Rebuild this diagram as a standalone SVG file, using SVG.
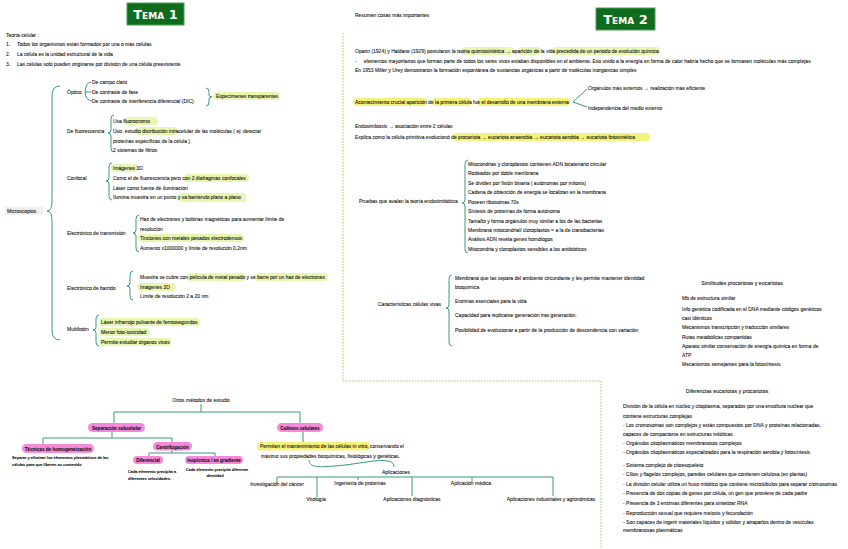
<svg xmlns="http://www.w3.org/2000/svg" width="848" height="549" viewBox="0 0 848 549">
<style>
text{font-family:"Liberation Sans",Arial,sans-serif;font-size:5px;fill:#111;stroke:#111;stroke-width:0.08}
.sm{font-size:3.9px;font-weight:bold}
.pt{font-size:4.6px;font-weight:bold;text-anchor:middle}
.c{text-anchor:middle}
.hd{font-size:5.2px}
.hl{fill:#e8f6b0}
.hy{fill:#f5f27c}
.pill{fill:#f48ad9}
.ln{stroke:#3a9a7e;stroke-width:1;fill:none}
.dash{stroke:#9ccc65;stroke-width:1;stroke-dasharray:1.5 1.5;fill:none}
.tema{fill:#0f6b1e;stroke:#4e9e55;stroke-width:1}
.tt{font-family:"DejaVu Sans",sans-serif;font-weight:bold;font-size:13px;fill:#fff;stroke:none;font-variant:small-caps}
</style>
<rect width="848" height="549" fill="#fff"/>

<g id="connectors">
<path class="dash" d="M343,33 V381 H601 V549"/>
<path class="ln" d="M60,86 Q52,86 52,96 L52,201 Q52,211 47,211 Q52,211 52,221 L52,330 Q52,340 60,340"/>
<path class="ln" d="M91,82 Q86,82 85,92 Q86,101 92,101 M85,92 L92,92"/>
<path class="ln" d="M206,88 Q209,88 209,92 L209,95 Q209,97 212,97 Q209,97 209,99 L209,102 Q209,106 206,106"/>
<path class="ln" d="M114,115 Q111,115 111,119 L111,130 Q111,133 108,133 Q111,133 111,136 L111,148 Q111,152 114,152"/>
<path class="ln" d="M112,163 Q109,163 109,167 L109,178 Q109,181 106,181 Q109,181 109,184 L109,196 Q109,200 112,200"/>
<path class="ln" d="M139,215 Q136,215 136,219 L136,230 Q136,233 133,233 Q136,233 136,236 L136,248 Q136,252 139,252"/>
<path class="ln" d="M133,271 Q130,271 130,275 L130,283 Q130,286 127,286 Q130,286 130,289 L130,296 Q130,300 133,300"/>
<path class="ln" d="M99,315 Q96,315 96,319 L96,327 Q96,330 93,330 Q96,330 96,333 L96,342 Q96,346 99,346"/>
<path class="ln" d="M587,89 L573,102 L587,107"/>
<path class="ln" d="M468,160 Q465,160 465,164 L465,200 Q465,203 462,203 Q465,203 465,206 L465,249 Q465,253 468,253"/>
<path class="ln" d="M452,275 Q449,275 449,279 L449,305 Q449,308 446,308 Q449,308 449,311 L449,342 Q449,346 452,346"/>
<path class="ln" d="M201,404 V412 M114,423 V412 H300 V423"/>
<path class="ln" d="M112,432 V438 M43,444 V438 H172 V442"/>
<path class="ln" d="M172,450 V453 M149,456 V453 H215 V456"/>
<path class="ln" d="M303,432 V442"/>
<path class="ln" d="M309,460 C309,468 320,467 335,466 C360,464 375,459 388,461 C393,462 394,464 394,467"/>
<path class="ln" d="M277,477 H553 M277,477 V484 M317,477 V497 M358,477 V480 M412,477 V496 M472,477 V482 M553,477 V496"/>
</g>

<g id="tema1">
<rect class="tema" x="127" y="3" width="57" height="22"/>
<text class="tt" x="155.5" y="18.5" text-anchor="middle">Tema 1</text>
</g>
<g id="tema2">
<rect class="tema" x="596" y="8" width="59" height="22"/>
<text class="tt" x="625.5" y="23.5" text-anchor="middle">Tema 2</text>
</g>

<g id="teoria-celular">
<text x="6" y="37">Teoría celular :</text>
<text x="6" y="46">1.</text><text x="17" y="46">Todos los organismos están formados por una o más células</text>
<text x="6" y="56">2.</text><text x="17" y="56">La célula es la unidad estructural de la vida</text>
<text x="6" y="66">3.</text><text x="17" y="66">Las células solo pueden originarse por división de una célula preexistente</text>
</g>

<g id="microscopios">
<rect x="5" y="207" width="38" height="8" fill="#eeeeee" rx="1"/>
<text x="7" y="213">Microscopios</text>
</g>

<g id="optico">
<text x="67" y="94">Óptico</text>
<text x="92" y="84">De campo claro</text>
<text x="92" y="94">De contraste de fase</text>
<text x="92" y="103">De contraste de interferencia diferencial (DIC)</text>
<rect class="hl" x="213" y="92" width="67" height="8" rx="4"/>
<text x="216" y="98">Especímenes transparentes</text>
</g>

<g id="fluorescencia">
<text x="67" y="133">De fluorescencia</text>
<rect class="hl" x="124" y="117" width="34" height="8" rx="4"/>
<rect class="hl" x="135" y="127" width="43" height="8" rx="4"/>
<text x="113" y="123">Usa fluorocromo</text>
<text x="113" y="133">Uso: estudio distribución intracelular de las moléculas ( ej: detectar</text>
<text x="113" y="143">proteínas específicas de la célula )</text>
<text x="113" y="152">2 sistemas de filtros</text>
</g>

<g id="confocal">
<text x="67" y="180">Confocal</text>
<rect class="hl" x="111" y="164" width="27" height="8" rx="4"/>
<rect class="hl" x="184" y="174" width="65" height="8" rx="4"/>
<rect class="hl" x="178" y="193" width="68" height="9" rx="4"/>
<text x="113" y="170">Imágenes 3D</text>
<text x="113" y="180">Como el de fluorescencia pero con 2 diafragmas confocales</text>
<text x="113" y="190">Láser como fuente de iluminación</text>
<text x="113" y="199">Ilumina muestra en un punto y va barriendo plano a plano</text>
</g>

<g id="transmision">
<text x="67" y="235">Electrónico de transmisión</text>
<rect class="hl" x="138" y="234" width="106" height="8" rx="4"/>
<text x="140" y="221">Haz de electrones y bobinas magnéticas para aumentar límite de</text>
<text x="140" y="231">resolución</text>
<text x="140" y="240">Tinciones con metales pesados electrodensos</text>
<text x="140" y="250">Aumento x1000000 y límite de resolución 0,2nm</text>
</g>

<g id="barrido">
<text x="67" y="290">Electrónico de barrido</text>
<rect class="hl" x="187" y="273" width="59" height="8" rx="4"/>
<rect class="hl" x="254" y="273" width="74" height="8" rx="4"/>
<rect class="hl" x="137" y="283" width="39" height="8" rx="4"/>
<text x="140" y="279">Muestra se cubre con película de metal pesado y se barre por un haz de electrones</text>
<text x="140" y="289">Imágenes 3D</text>
<text x="140" y="298">Límite de resolución 2 a 20 nm</text>
</g>

<g id="multifoton">
<text x="67" y="331">Multifotón</text>
<rect class="hl" x="99" y="318" width="101" height="8" rx="4"/>
<rect class="hl" x="99" y="328" width="51" height="8" rx="4"/>
<rect class="hl" x="99" y="338" width="72" height="8" rx="4"/>
<text x="101" y="324">Láser infrarrojo pulsante de femtosegundos</text>
<text x="101" y="334">Menor foto-toxicidad</text>
<text x="101" y="344">Permite estudiar órganos vivos</text>
</g>

<g id="otros-metodos">
<text class="c" x="201" y="402">Otros métodos de estudio</text>
</g>
<g id="separacion">
<rect class="pill" x="88" y="423" width="57" height="9" rx="4.5"/>
<text class="pt" x="116.5" y="429.5">Separación subcelular</text>
</g>
<g id="homogeneizacion">
<rect class="pill" x="22" y="444" width="72" height="9" rx="4.5"/>
<text class="pt" x="58" y="450.5">Técnicas de homogeneización</text>
<text class="sm" x="12" y="459">Separar y eliminar los elementos plasmáticos de las</text>
<text class="sm" x="12" y="466">células para que liberen su contenido</text>
</g>
<g id="centrifugacion">
<rect class="pill" x="153" y="442" width="39" height="8.5" rx="4.2"/>
<text class="pt" x="172.5" y="448.5">Centrifugación</text>
</g>
<g id="diferencial">
<rect class="pill" x="133" y="456" width="30" height="8" rx="4"/>
<text class="pt" x="148" y="462">Diferencial</text>
<text class="sm" x="128" y="473">Cada elemento precipita a</text>
<text class="sm" x="128" y="480">diferentes velocidades.</text>
</g>
<g id="isopicnica">
<rect class="pill" x="185" y="456" width="58" height="8" rx="4"/>
<text class="pt" x="214" y="462">Isopícnica / en gradiente</text>
<text class="sm c" x="217" y="471">Cada elemento precipita diferente</text>
<text class="sm c" x="215" y="477">densidad</text>
</g>
<g id="cultivos">
<rect class="pill" x="277" y="423" width="46" height="9" rx="4.5"/>
<text class="pt" x="300" y="429.5">Cultivos celulares</text>
<rect class="hy" x="257" y="442" width="113" height="8.5" rx="4"/>
<text x="260" y="448">Permiten el mantenimiento de las células in vitro, conservando el</text>
<text x="261" y="458">máximo sus propiedades bioquímicas, fisiológicas y genéticas.</text>
</g>
<g id="aplicaciones">
<text class="c" x="396" y="474">Aplicaciones</text>
<text class="c" x="277" y="486">Investigación del cáncer</text>
<text class="c" x="316" y="501">Virología</text>
<text class="c" x="360" y="485">Ingeniería de proteínas</text>
<text class="c" x="412" y="501">Aplicaciones diagnósticas</text>
<text class="c" x="471" y="485">Aplicación médica</text>
<text class="c" x="551" y="501">Aplicaciones industriales y agronómicas</text>
</g>

<g id="resumen">
<text x="355" y="17">Resumen cosas más importantes</text>
</g>
<g id="oparin">
<rect class="hl" x="461" y="47" width="52" height="8" rx="4"/>
<rect class="hl" x="518" y="47" width="23" height="8" rx="4"/>
<rect class="hl" x="552" y="47" width="108" height="8" rx="4"/>
<text x="355" y="53">Oparin (1924) y Haldane (1929) postularon la teoría quimiosintética → aparición de la vida precedida de un periodo de evolución química</text>
<text x="355" y="63">-</text>
<text x="364" y="63">elementos mayoritarios que forman parte de todos los seres vivos estaban disponibles en el ambiente. Eso unido a la energía en forma de calor habría hecho que se formasen moléculas más complejas</text>
<text x="355" y="72">En 1953 Miller y Urey demostraron la formación espontánea de sustancias orgánicas a partir de moléculas inorgánicas simples</text>
</g>
<g id="membrana">
<rect class="hy" x="353" y="98" width="74" height="8" rx="4"/>
<rect class="hy" x="432" y="98" width="40" height="8" rx="4"/>
<rect class="hy" x="477" y="98" width="93" height="8" rx="4"/>
<text x="355" y="104">Acontecimiento crucial aparición de la primera célula fue el desarrollo de una membrana externa</text>
<text x="588" y="90">Orgánulos más externos → realización más eficiente</text>
<text x="588" y="110">Independencia del medio externo</text>
</g>
<g id="endosimbiosis">
<text x="355" y="128">Endosimbiosis → asociación entre 2 células</text>
<rect class="hy" x="453" y="133" width="197" height="8" rx="4"/>
<text x="355" y="139">Explica como la célula primitiva evolucionó de procariota → eucariota anaerobia → eucariota aerobia → eucariota fotosintética</text>
</g>
<g id="pruebas">
<text x="359" y="203">Pruebas que avalan la teoría endosimbiótica</text>
<text x="468" y="166">Mitocondrias y cloroplastos contienen ADN bicatenario circular</text>
<text x="468" y="175">Rodeados por doble membrana</text>
<text x="468" y="185">Se dividen por fisión binaria ( autónomas por mitosis)</text>
<text x="468" y="194">Cadena de obtención de energía se localizan en la membrana</text>
<text x="468" y="204">Poseen ribosomas 70s</text>
<text x="468" y="213">Síntesis de proteínas de forma autónoma</text>
<text x="468" y="223">Tamaño y forma orgánulos muy similar a los de las bacterias</text>
<text x="468" y="232">Membrana mitocondrial/ cloroplastos = a la de cianobacterias</text>
<text x="468" y="241">Análisis ADN revela genes homólogos</text>
<text x="468" y="251">Mitocondria y cloroplastos sensibles a los antibióticos</text>
</g>
<g id="caracteristicas">
<text x="378" y="306">Características células vivas</text>
<text x="455" y="280">Membrana que las separa del ambiente circundante y les permite mantener identidad</text>
<text x="455" y="289">bioquímica</text>
<text x="455" y="303">Enzimas esenciales para la vida</text>
<text x="455" y="317">Capacidad para replicarse generación tras generación.</text>
<text x="455" y="332">Posibilidad de evolucionar a partir de la producción de descendencia con variación</text>
</g>
<g id="similitudes">
<text class="c hd" x="742" y="285">Similitudes procariotas y eucariotas</text>
<text x="682" y="300">Mb de estructura similar</text>
<text x="682" y="311">Info genética codificada en el DNA mediante códigos genéticos</text>
<text x="682" y="320">casi idénticos</text>
<text x="682" y="329">Mecanismos transcripción y traducción similares</text>
<text x="682" y="339">Rutas metabólicas compartidas</text>
<text x="682" y="348">Aparato similar conservación de energía química en forma de</text>
<text x="682" y="357">ATP</text>
<text x="682" y="366">Mecanismos semejantes para la fotosíntesis</text>
</g>
<g id="diferencias">
<text class="c hd" x="727" y="393">Diferencias eucariotas y procariotas</text>
<text x="623" y="408">División de la célula en núcleo y citoplasma, separados por una envoltura nuclear que</text>
<text x="623" y="418">contiene estructuras complejas</text>
<text x="623" y="427">- Los cromosomas son complejos y están compuestos por DNA y proteínas relacionadas,</text>
<text x="623" y="436">capaces de compactarse en estructuras mitóticas</text>
<text x="623" y="445">- Orgánulos citoplasmáticos membranosos complejos</text>
<text x="623" y="454">- Orgánulos citoplasmáticos especializados para la respiración aerobia y fotosíntesis</text>
<text x="623" y="467">- Sistema complejo de citoesqueleto</text>
<text x="623" y="476">- Cilios y flagelos complejos, paredes celulares que contienen celulosa (en plantas)</text>
<text x="623" y="486">- La división celular utiliza un huso mitótico que contiene microtúbulos para separar cromosomas</text>
<text x="623" y="495">- Presencia de dos copias de genes por célula, un gen que proviene de cada padre</text>
<text x="623" y="505">- Presencia de 3 enzimas diferentes para sintetizar RNA</text>
<text x="623" y="515">- Reproducción sexual que requiere meiosis y fecundación</text>
<text x="623" y="524">- Son capaces de ingerir materiales líquidos y sólidos y atraparlos dentro de vesículas</text>
<text x="623" y="532">membranosas plasmáticas</text>
</g>
</svg>
